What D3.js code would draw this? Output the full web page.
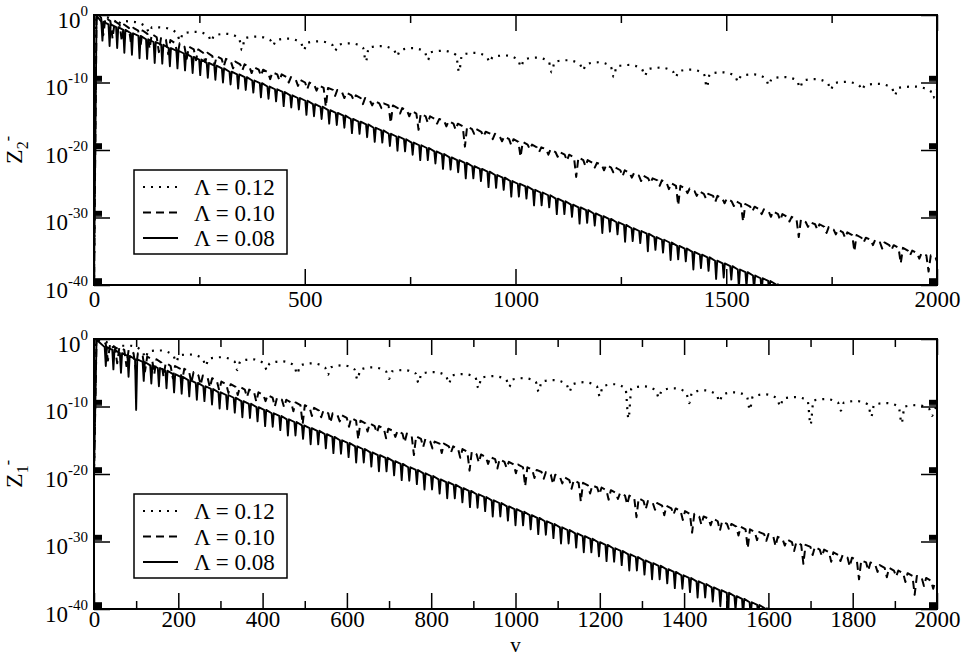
<!DOCTYPE html>
<html>
<head>
<meta charset="utf-8">
<script src="https://cdn.jsdelivr.net/npm/d3@7"></script>
<style>
  body { margin: 0; background: #fff; }
  svg { display: block; }
</style>
</head>
<body>
<div id="chart"></div>
<script>
// ---- data ----
// points are [v, log10 Z] ; dips are [v, log10 Z beside the dip, log10 Z at the dip bottom]
const legendLabels = ["Λ = 0.12", "Λ = 0.10", "Λ = 0.08"]
const xTicksTop = [0, 500, 1000, 1500, 2000]
const xMinorTop = [250, 750, 1250, 1750]
const xTicksBottom = [0, 200, 400, 600, 800, 1000, 1200, 1400, 1600, 1800, 2000]
const xMinorBottom = [100, 300, 500, 700, 900, 1100, 1300, 1500, 1700, 1900]
const yExponents = [-40, -30, -20, -10, 0]

// Z2- , Lambda = 0.12
const z2_L012 = [[0,-40],[6,-0.1],
  [57,-0.9,-1.5],[94,-1.0],[131,-1.8,-2.6],[168,-1.9],[204,-2.7,-3.8],[241,-2.5],[278,-3.0,-3.9],[315,-2.8],
  [351,-3.4,-5.2],[388,-3.2],[425,-3.7,-4.5],[462,-3.5],[498,-4.1,-5.2],[535,-3.9],[572,-4.4,-5.3],[609,-4.2],
  [645,-4.8,-6.9],[682,-4.6],[719,-5.2,-6.1],[756,-4.9],[792,-5.5,-6.7],[829,-5.3],[866,-5.9,-8.4],[903,-5.6],
  [939,-6.2,-7.0],[976,-6.0],[1013,-6.6,-7.7],[1050,-6.3],[1086,-6.9,-8.5],[1123,-6.7],[1160,-7.3,-8.2],[1197,-7.0],
  [1233,-7.6,-9.2],[1270,-7.4],[1307,-8.0,-9.0],[1344,-7.8],[1380,-8.3,-9.2],[1417,-8.1],[1454,-8.7,-10.7],[1491,-8.5],
  [1528,-9.0,-9.9],[1565,-8.8],[1601,-9.4,-10.4],[1638,-9.2],[1675,-9.7,-10.8],[1712,-9.5],[1748,-10.1,-11.1],[1785,-9.9],
  [1822,-10.4,-11.1],[1861,-10.2],[1900,-10.8,-11.9],[1945,-10.6],[1991,-11.2,-12.3],[2010,-11.0]]

// Z2- , Lambda = 0.10
const z2_L010 = [[0,-40],[6,-0.1],
  [22,-0.4,-3.0],[44,-0.9,-3.5],[66,-1.4,-3.9],[88,-1.9,-4.3],[110,-2.3,-4.8],[132,-2.8,-5.0],[154,-3.3,-5.5],
  [176,-3.7,-5.8],[198,-4.2,-6.0],[220,-4.7,-6.5],[242,-5.1,-6.7],[264,-5.6,-7.0],[286,-6.1,-7.4],[308,-6.5,-7.6],
  [330,-6.9,-7.9],[352,-7.3,-8.2],[374,-7.7,-8.6],[396,-8.1,-9.0],[418,-8.5,-9.5],[440,-8.8,-9.7],[462,-9.2,-10.0],
  [484,-9.6,-10.5],[506,-10.0,-11.0],[528,-10.4,-11.2],[550,-10.8,-13.6],[572,-11.1,-12.0],[594,-11.5,-12.3],
  [616,-11.9,-12.6],[638,-12.3,-13.2],[660,-12.7,-13.4],[682,-13.1,-13.8],[704,-13.4,-16.0],[726,-13.8,-14.6],
  [748,-14.2,-15.0],[770,-14.6,-17.0],[792,-15.0,-16.0],[814,-15.4,-16.1],[836,-15.7,-16.5],[858,-16.1,-17.0],
  [880,-16.5,-19.5],[902,-16.9,-17.6],[924,-17.3,-18.0],[946,-17.6,-18.4],[968,-18.0,-18.7],[990,-18.4,-19.3],
  [1012,-18.8,-21.0],[1034,-19.2,-19.9],[1056,-19.6,-20.3],[1078,-19.9,-20.7],[1100,-20.3,-21.0],[1122,-20.7,-21.6],
  [1144,-21.1,-24.0],[1166,-21.5,-22.4],[1188,-21.9,-22.6],[1210,-22.2,-23.0],[1232,-22.6,-23.3],[1254,-23.0,-23.9],
  [1276,-23.4,-24.1],[1298,-23.8,-24.6],[1320,-24.2,-24.9],[1342,-24.5,-25.3],[1364,-24.9,-25.8],[1386,-25.3,-28.2],
  [1408,-25.7,-26.4],[1430,-26.1,-26.8],[1452,-26.5,-27.2],[1474,-26.8,-27.7],[1496,-27.2,-27.9],[1518,-27.6,-28.3],
  [1540,-28.0,-30.6],[1562,-28.4,-29.1],[1584,-28.8,-29.5],[1606,-29.1,-29.9],[1628,-29.5,-30.4],[1650,-29.9,-30.6],
  [1672,-30.3,-32.9],[1694,-30.7,-31.4],[1716,-31.0,-31.8],[1738,-31.4,-32.3],[1760,-31.8,-32.5],[1782,-32.2,-33.0],
  [1804,-32.6,-35.0],[1826,-33.0,-33.7],[1848,-33.3,-34.1],[1870,-33.7,-34.6],[1892,-34.1,-34.8],[1914,-34.5,-36.8],
  [1936,-34.9,-35.6],[1958,-35.3,-36.1],[1980,-35.6,-38.0],[2002,-36.0,-36.8]]

// Z2- , Lambda = 0.08
const z2_L008 = [[0,-40],[6,-0.1],
  [20,-1.0,-3.8],[37,-1.4,-4.6],[55,-1.8,-4.9],[72,-2.2,-5.6],[90,-2.7,-5.9],[108,-3.1,-6.4],[126,-3.6,-6.5],
  [144,-4.0,-7.1],[162,-4.4,-7.2],[180,-4.9,-7.6],[198,-5.3,-7.9],[216,-5.7,-8.2],[234,-6.2,-8.6],[252,-6.6,-8.9],
  [270,-7.1,-9.3],[288,-7.5,-9.6],[306,-7.9,-10.0],[324,-8.4,-10.3],[342,-8.8,-10.9],[360,-9.2,-11.1],[378,-9.7,-11.5],
  [396,-10.1,-12.2],[414,-10.6,-12.4],[432,-11.0,-12.8],[450,-11.4,-13.5],[468,-11.9,-13.7],[486,-12.3,-14.0],
  [504,-12.7,-14.8],[522,-13.2,-15.0],[540,-13.6,-15.4],[558,-14.1,-16.1],[576,-14.5,-16.3],[594,-14.9,-16.7],
  [612,-15.4,-17.5],[630,-15.8,-17.6],[648,-16.2,-18.1],[666,-16.7,-18.8],[684,-17.1,-18.9],[702,-17.6,-19.4],
  [720,-18.0,-20.1],[738,-18.4,-20.2],[756,-18.9,-20.7],[774,-19.3,-21.5],[792,-19.7,-21.5],[810,-20.2,-22.0],
  [828,-20.6,-22.8],[846,-21.1,-22.9],[864,-21.5,-23.3],[882,-21.9,-24.2],[900,-22.4,-24.2],[918,-22.8,-24.6],
  [936,-23.2,-25.5],[954,-23.7,-25.6],[972,-24.1,-25.9],[990,-24.6,-26.9],[1008,-25.0,-26.9],[1026,-25.4,-27.2],
  [1044,-25.9,-28.2],[1062,-26.3,-28.2],[1080,-26.7,-28.5],[1098,-27.2,-29.5],[1116,-27.6,-29.5],[1134,-28.1,-29.9],
  [1152,-28.5,-30.9],[1170,-28.9,-30.8],[1188,-29.4,-31.2],[1206,-29.8,-32.3],[1224,-30.2,-32.1],[1242,-30.7,-32.5],
  [1260,-31.1,-33.6],[1278,-31.6,-33.5],[1296,-32.0,-33.8],[1314,-32.4,-35.0],[1332,-32.9,-34.8],[1350,-33.3,-35.2],
  [1368,-33.7,-36.3],[1386,-34.2,-36.2],[1404,-34.6,-36.5],[1422,-35.1,-37.7],[1440,-35.5,-37.5],[1458,-35.9,-37.9],
  [1476,-36.4,-39.1],[1494,-36.8,-38.9],[1512,-37.2,-39.2],[1530,-37.7,-40.4],[1548,-38.1,-40.2],[1566,-38.6,-40.6],
  [1584,-39.0,-41],[1602,-39.4,-41],[1620,-39.9,-41],[1638,-40.3,-41]]

// Z1- , Lambda = 0.12
const z1_L012 = [[0,-20],[6,-0.1],
  [50,-1.0,-1.8],[86,-1.0],[122,-1.8,-2.8],[158,-1.7],[195,-2.4,-3.4],[230,-2.3],[265,-2.9,-4.0],[302,-2.7],
  [340,-3.3,-4.6],[375,-3.0],[410,-3.6,-4.6],[446,-3.3],[482,-3.9,-5.2],[518,-3.6],[555,-4.2,-5.3],[590,-3.9],
  [625,-4.5,-6.0],[662,-4.2],[700,-4.8,-5.9],[735,-4.6],[770,-5.1,-6.5],[806,-4.9],[842,-5.4,-6.6],[877,-5.2],
  [912,-5.7,-7.3],[948,-5.5],[985,-6.0,-7.1],[1020,-5.8],[1055,-6.3,-7.8],[1091,-6.1],[1128,-6.7,-7.8],[1164,-6.4],
  [1200,-7.0,-8.5],[1234,-6.7],[1268,-7.3,-11.8],[1304,-7.0],[1340,-7.6,-8.7],[1376,-7.3],[1412,-7.9,-9.5],[1448,-7.6],
  [1484,-8.2,-9.3],[1520,-7.9],[1556,-8.5,-10.5],[1592,-8.2],[1628,-8.8,-10.0],[1664,-8.6],[1700,-9.1,-12.7],[1736,-8.9],
  [1772,-9.4,-10.6],[1808,-9.2],[1844,-9.7,-11.5],[1880,-9.5],[1916,-10.0,-12.5],[1952,-9.8],[1988,-10.3,-11.4],[2010,-10.0]]

// Z1- , Lambda = 0.10
const z1_L010 = [[0,-20],[6,-0.1],
  [33,-0.7,-3.2],[55,-1.2,-3.6],[77,-1.6,-4.0],[99,-2.1,-4.5],[121,-2.6,-4.8],[143,-3.0,-5.2],[165,-3.5,-5.6],
  [187,-4.0,-5.8],[209,-4.4,-6.2],[231,-4.9,-6.5],[253,-5.4,-6.8],[275,-5.8,-7.2],[297,-6.3,-7.6],[319,-6.7,-8.0],
  [341,-7.1,-8.3],[363,-7.5,-8.6],[385,-7.9,-9.3],[407,-8.3,-9.2],[429,-8.7,-10.0],[451,-9.0,-10.1],[473,-9.4,-10.7],
  [495,-9.8,-12.6],[517,-10.2,-11.4],[539,-10.6,-11.6],[561,-11.0,-12.4],[583,-11.3,-12.2],[605,-11.7,-13.0],
  [627,-12.1,-14.9],[649,-12.5,-13.7],[671,-12.9,-13.9],[693,-13.3,-14.7],[715,-13.6,-14.5],[737,-14.0,-15.3],
  [759,-14.4,-17.2],[781,-14.8,-16.0],[803,-15.2,-16.2],[825,-15.5,-16.9],[847,-15.9,-16.8],[869,-16.3,-17.6],
  [891,-16.7,-19.5],[913,-17.1,-18.3],[935,-17.5,-18.5],[957,-17.8,-19.2],[979,-18.2,-19.1],[1001,-18.6,-19.9],
  [1023,-19.0,-21.8],[1045,-19.4,-20.6],[1067,-19.7,-20.7],[1089,-20.1,-21.5],[1111,-20.5,-21.4],[1133,-20.9,-22.2],
  [1155,-21.3,-24.1],[1177,-21.7,-22.9],[1199,-22.0,-23.0],[1221,-22.4,-23.8],[1243,-22.8,-23.7],[1265,-23.2,-24.5],
  [1287,-23.6,-26.4],[1309,-24.0,-25.2],[1331,-24.3,-25.3],[1353,-24.7,-26.1],[1375,-25.1,-26.0],[1397,-25.5,-26.8],
  [1419,-25.9,-28.7],[1441,-26.3,-27.5],[1463,-26.6,-27.6],[1485,-27.0,-28.4],[1507,-27.4,-28.3],[1529,-27.8,-29.1],
  [1551,-28.2,-31.0],[1573,-28.6,-29.8],[1595,-28.9,-29.9],[1617,-29.3,-30.7],[1639,-29.7,-30.6],[1661,-30.1,-31.4],
  [1683,-30.5,-33.3],[1705,-30.8,-32.0],[1727,-31.2,-32.2],[1749,-31.6,-33.0],[1771,-32.0,-32.9],[1793,-32.4,-33.7],
  [1815,-32.8,-35.6],[1837,-33.1,-34.3],[1859,-33.5,-34.5],[1881,-33.9,-35.3],[1903,-34.3,-35.2],[1925,-34.7,-36.0],
  [1947,-35.1,-37.9],[1969,-35.4,-36.6],[1991,-35.8,-37.0]]

// Z1- , Lambda = 0.08
const z1_L008 = [[0,-20],[6,-0.1],
  [28,-1.2,-4.0],[46,-1.6,-4.5],[64,-2.1,-5.0],[82,-2.5,-5.6],[100,-3.0,-10.5],[118,-3.4,-6.2],[136,-3.9,-6.6],
  [154,-4.3,-7.0],[172,-4.7,-7.3],[190,-5.2,-7.9],[208,-5.6,-8.1],[226,-6.1,-8.5],[244,-6.5,-9.0],[262,-7.0,-9.2],
  [280,-7.4,-9.7],[298,-7.9,-10.3],[316,-8.3,-10.4],[334,-8.7,-10.9],[352,-9.2,-11.6],[370,-9.6,-11.7],[388,-10.1,-12.2],
  [406,-10.5,-12.9],[424,-11.0,-13.0],[442,-11.4,-13.5],[460,-11.9,-14.3],[478,-12.3,-14.3],[496,-12.8,-14.8],
  [514,-13.2,-15.6],[532,-13.6,-15.6],[550,-14.1,-16.2],[568,-14.5,-16.9],[586,-15.0,-17.0],[604,-15.4,-17.5],
  [622,-15.9,-18.3],[640,-16.3,-18.3],[658,-16.8,-18.9],[676,-17.2,-19.6],[694,-17.6,-19.6],[712,-18.1,-20.2],
  [730,-18.5,-20.9],[748,-19.0,-21.0],[766,-19.4,-21.5],[784,-19.9,-22.3],[802,-20.3,-22.3],[820,-20.8,-22.9],
  [838,-21.2,-23.6],[856,-21.6,-23.6],[874,-22.1,-24.2],[892,-22.5,-24.9],[910,-23.0,-25.0],[928,-23.4,-25.5],
  [946,-23.9,-26.3],[964,-24.3,-26.3],[982,-24.8,-26.9],[1000,-25.2,-27.6],[1018,-25.6,-27.6],[1036,-26.1,-28.2],
  [1054,-26.5,-28.9],[1072,-27.0,-29.0],[1090,-27.4,-29.5],[1108,-27.9,-30.3],[1126,-28.3,-30.3],[1144,-28.8,-30.9],
  [1162,-29.2,-31.6],[1180,-29.6,-31.6],[1198,-30.1,-32.2],[1216,-30.5,-32.9],[1234,-31.0,-33.0],[1252,-31.4,-33.5],
  [1270,-31.9,-34.3],[1288,-32.3,-34.3],[1306,-32.8,-34.9],[1324,-33.2,-35.6],[1342,-33.6,-35.6],[1360,-34.1,-36.2],
  [1378,-34.5,-36.9],[1396,-35.0,-37.0],[1414,-35.4,-37.5],[1432,-35.9,-38.3],[1450,-36.3,-38.3],[1468,-36.8,-38.9],
  [1486,-37.2,-39.6],[1504,-37.6,-42],[1522,-38.1,-40.2],[1540,-38.5,-40.9],[1558,-39.0,-41],[1576,-39.4,-41],
  [1594,-39.9,-41],[1612,-40.3,-41]]

// ---- layout ----
const width = 963, height = 656
const left = 94, right = 937
const font = "Liberation Serif, Times New Roman, serif"

const panels = [
  { top: 15, bottom: 285, sub: "2", major: xTicksTop, minor: xMinorTop, pad: 6,
    series: [z2_L012, z2_L010, z2_L008], legendY: 170 },
  { top: 339, bottom: 609, sub: "1", major: xTicksBottom, minor: xMinorBottom, pad: 2,
    series: [z1_L012, z1_L010, z1_L008], legendY: 494 }
]

// dotted, dashed, solid
const lineStyles = [
  { dash: "2,6", width: 2.2, spike: 3, curve: d3.curveMonotoneX },
  { dash: "8,5", width: 2, spike: 2.2, curve: d3.curveLinear },
  { dash: null, width: 1.9, spike: 1.1, curve: d3.curveLinear }
]

const svg = d3.select("#chart").append("svg")
  .attr("width", width)
  .attr("height", height)
  .attr("font-family", font)

const x = d3.scaleLinear().domain([0, 2000]).range([left, right])

// minor log ticks: k * 10^m just above each labelled decade
const minorExp = yExponents.filter(e => e < 0)
const yMinor = [].concat(...minorExp.map(e => d3.range(2, 10).map(k => k * Math.pow(10, e))))

panels.forEach((p, pi) => {
  const y = d3.scaleLog().domain([1e-40, 1]).range([p.bottom, p.top])
  const g = svg.append("g")

  const clipId = "clip" + pi
  svg.append("clipPath").attr("id", clipId)
    .append("rect")
      .attr("x", left).attr("y", p.top)
      .attr("width", right - left).attr("height", p.bottom - p.top)

  // curves
  const gLines = g.append("g").attr("clip-path", `url(#${clipId})`)
  p.series.forEach((data, si) => {
    const st = lineStyles[si]
    const pts = []
    data.forEach(d => {
      const px = x(d[0])
      if (d.length === 2) {
        pts.push([px, y(Math.pow(10, d[1]))])
      } else {
        const yt = y(Math.pow(10, d[1])), yb = y(Math.pow(10, d[2]))
        pts.push([px - st.spike, yt], [px, yb], [px + st.spike, yt])
      }
    })
    const line = d3.line().curve(st.curve)
    gLines.append("path")
      .attr("d", line(pts))
      .attr("fill", "none")
      .attr("stroke", "#000")
      .attr("stroke-width", st.width)
      .attr("stroke-linejoin", "round")
      .attr("stroke-dasharray", st.dash)
  })

  // axes
  const tickStyle = sel => {
    sel.attr("font-family", font)
    sel.select(".domain").remove()
    sel.selectAll(".tick line").attr("stroke", "#000").attr("stroke-width", 1.5)
  }
  g.append("g").attr("transform", `translate(0,${p.bottom})`)
    .call(d3.axisBottom(x).tickValues(p.major).tickSize(-16).tickPadding(p.pad).tickFormat(d3.format("d")))
    .call(tickStyle)
    .call(s => s.selectAll("text").attr("font-size", 23).attr("fill", "#000"))
  g.append("g").attr("transform", `translate(0,${p.bottom})`)
    .call(d3.axisBottom(x).tickValues(p.minor).tickSize(-8).tickFormat(""))
    .call(tickStyle)
  g.append("g").attr("transform", `translate(0,${p.top})`)
    .call(d3.axisTop(x).tickValues(p.major).tickSize(-16).tickFormat(""))
    .call(tickStyle)
  g.append("g").attr("transform", `translate(0,${p.top})`)
    .call(d3.axisTop(x).tickValues(p.minor).tickSize(-8).tickFormat(""))
    .call(tickStyle)

  const yMajor = yExponents.map(e => Math.pow(10, e))
  g.append("g").attr("transform", `translate(${left},0)`)
    .call(d3.axisLeft(y).tickValues(yMajor).tickSize(-16).tickPadding(6))
    .call(tickStyle)
    .call(s => s.selectAll("text").each(function(d) {
      const t = d3.select(this)
        .attr("font-size", 23).attr("fill", "#000")
        .attr("dy", 12)
        .text("10")
      t.append("tspan").attr("font-size", 15).attr("dy", -12)
        .text(Math.round(Math.log10(d)))
    }))
  g.append("g").attr("transform", `translate(${left},0)`)
    .call(d3.axisLeft(y).tickValues(yMinor).tickSize(-8).tickFormat(""))
    .call(tickStyle)
  g.append("g").attr("transform", `translate(${right},0)`)
    .call(d3.axisRight(y).tickValues(yMajor).tickSize(-16).tickFormat(""))
    .call(tickStyle)
  g.append("g").attr("transform", `translate(${right},0)`)
    .call(d3.axisRight(y).tickValues(yMinor).tickSize(-8).tickFormat(""))
    .call(tickStyle)

  // frame
  g.append("rect")
    .attr("x", left).attr("y", p.top)
    .attr("width", right - left).attr("height", p.bottom - p.top)
    .attr("fill", "none").attr("stroke", "#000").attr("stroke-width", 2)

  // y title  Z_n^-
  const yt = g.append("text")
    .attr("transform", `translate(22,${(p.top + p.bottom) / 2}) rotate(-90)`)
    .attr("text-anchor", "middle")
    .attr("font-size", 24)
    .text("Z")
  yt.append("tspan").attr("font-size", 16).attr("dy", 6).text(p.sub)
  yt.append("tspan").attr("font-size", 16).attr("dy", -15).text("-")

  // legend
  const lg = g.append("g").attr("transform", `translate(134,${p.legendY})`)
  lg.append("rect").attr("width", 153).attr("height", 84)
    .attr("fill", "#fff").attr("stroke", "#000").attr("stroke-width", 1.5)
  legendLabels.forEach((lab, i) => {
    const st = lineStyles[i]
    const cy = 17 + i * 25.5
    lg.append("line")
      .attr("x1", 9).attr("x2", 44).attr("y1", cy).attr("y2", cy)
      .attr("stroke", "#000").attr("stroke-width", st.width)
      .attr("stroke-dasharray", st.dash)
    lg.append("text").attr("x", 60).attr("y", cy + 8)
      .attr("font-size", 23).text(lab)
  })
})

// x title
svg.append("text")
  .attr("x", (left + right) / 2).attr("y", 651.5)
  .attr("text-anchor", "middle")
  .attr("font-size", 21)
  .text("v")
</script>
</body>
</html>
